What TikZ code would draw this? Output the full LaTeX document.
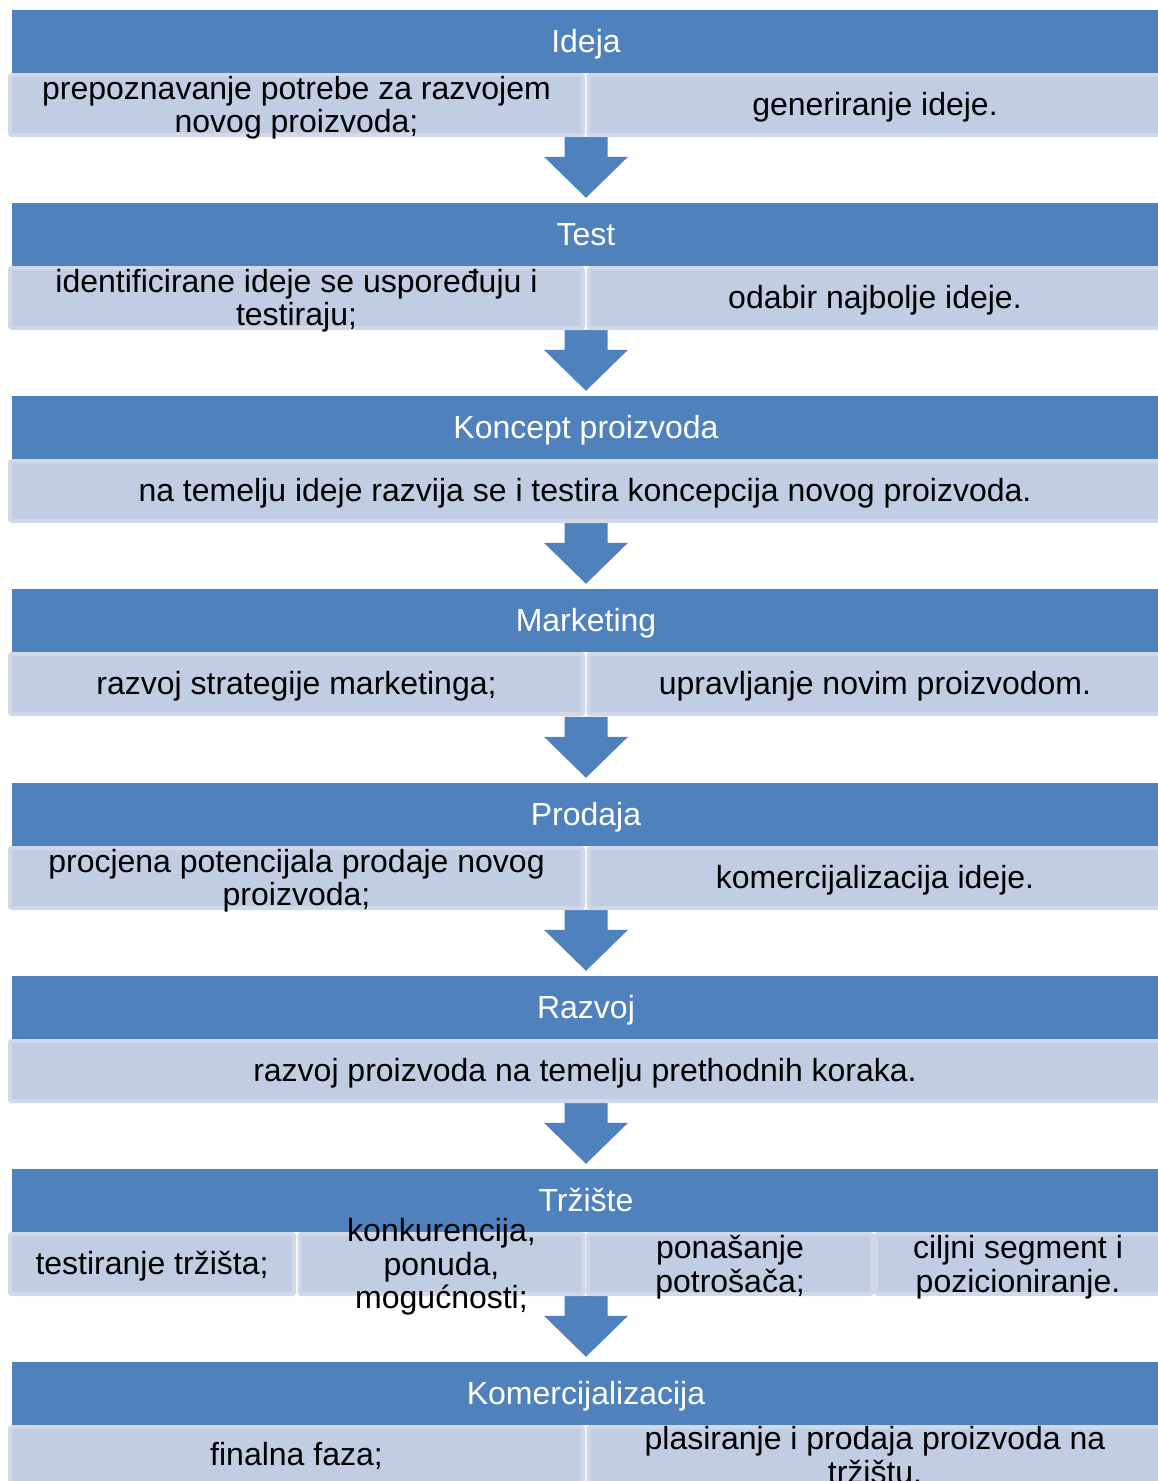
\documentclass[tikz,border=0pt]{standalone}
\usepackage{fontspec}
\setmainfont{Liberation Sans}
\usepackage{xcolor}
\usepackage{tikz}
\usetikzlibrary{calc}

\definecolor{hdblue}{RGB}{79,129,189}
\definecolor{subfill}{RGB}{193,205,226}
\definecolor{subframe}{RGB}{209,217,233}

\begin{document}
\begin{tikzpicture}
  [
    x=1pt, y=-1pt,
    head/.style={
      fill=hdblue,
      draw=none,
      minimum width=1148pt,
      minimum height=63pt,
      inner sep=0pt,
      text height=25pt,
      text depth=3pt,
      text=white,
      font=\fontsize{32}{34}\selectfont
    },
    sub/.style={
      fill=subfill,
      draw=subframe,
      line width=4pt,
      rounded corners=2pt,
      minimum height=60pt,
      inner sep=0pt
    },
    half/.style={sub, minimum width=573pt},
    full/.style={sub, minimum width=1150pt},
    quarter/.style={sub, minimum width=284pt},
    txt/.style={
      align=center,
      inner sep=0pt,
      font=\fontsize{32}{33.5}\selectfont
    },
    blk/.style={fill=hdblue}
  ]
  \useasboundingbox (0,0) rectangle (1158,1481);

  % headers
  \node (h1) at (586,41.5)   [head] {Ideja};
  \node (h2) at (586,234.5)  [head] {Test};
  \node (h3) at (586,427.5)  [head] {Koncept proizvoda};
  \node (h4) at (586,620.5)  [head] {Marketing};
  \node (h5) at (586,814.5)  [head] {Prodaja};
  \node (h6) at (586,1007.5) [head] {Razvoj};
  \node (h7) at (586,1200.5) [head] {Tržište};
  \node (h8) at (586,1393.5) [head] {Komercijalizacija};

  % block arrows (under the boxes)
  \fill [blk] ($(h2.north)+(-21.5,-66)$) -- ++(43,0) -- ++(0,20) -- ++(20.5,0) -- ($(h2.north)+(0,-5)$) -- ($(h2.north)+(-42,-46)$) -- ++(20.5,0) -- cycle;
  \fill [blk] ($(h3.north)+(-21.5,-66)$) -- ++(43,0) -- ++(0,20) -- ++(20.5,0) -- ($(h3.north)+(0,-5)$) -- ($(h3.north)+(-42,-46)$) -- ++(20.5,0) -- cycle;
  \fill [blk] ($(h4.north)+(-21.5,-66)$) -- ++(43,0) -- ++(0,20) -- ++(20.5,0) -- ($(h4.north)+(0,-5)$) -- ($(h4.north)+(-42,-46)$) -- ++(20.5,0) -- cycle;
  \fill [blk] ($(h5.north)+(-21.5,-66)$) -- ++(43,0) -- ++(0,20) -- ++(20.5,0) -- ($(h5.north)+(0,-5)$) -- ($(h5.north)+(-42,-46)$) -- ++(20.5,0) -- cycle;
  \fill [blk] ($(h6.north)+(-21.5,-66)$) -- ++(43,0) -- ++(0,20) -- ++(20.5,0) -- ($(h6.north)+(0,-5)$) -- ($(h6.north)+(-42,-46)$) -- ++(20.5,0) -- cycle;
  \fill [blk] ($(h7.north)+(-21.5,-66)$) -- ++(43,0) -- ++(0,20) -- ++(20.5,0) -- ($(h7.north)+(0,-5)$) -- ($(h7.north)+(-42,-46)$) -- ++(20.5,0) -- cycle;
  \fill [blk] ($(h8.north)+(-21.5,-66)$) -- ++(43,0) -- ++(0,20) -- ++(20.5,0) -- ($(h8.north)+(0,-5)$) -- ($(h8.north)+(-42,-46)$) -- ++(20.5,0) -- cycle;

  % boxes under each header
  \node (s1a) at (296.5,105)  [half] {};
  \node (s1b) at (875,105)    [half] {};
  \node (s2a) at (296.5,298)  [half] {};
  \node (s2b) at (875,298)    [half] {};
  \node (s3)  at (585,491)    [full] {};
  \node (s4a) at (296.5,684)  [half] {};
  \node (s4b) at (875,684)    [half] {};
  \node (s5a) at (296.5,878)  [half] {};
  \node (s5b) at (875,878)    [half] {};
  \node (s6)  at (585,1071)   [full] {};
  \node (s7a) at (152,1264)   [quarter] {};
  \node (s7b) at (441.5,1264) [quarter] {};
  \node (s7c) at (730,1264)   [quarter] {};
  \node (s7d) at (1018,1264)  [quarter] {};
  \node (s8a) at (296.5,1457) [half] {};
  \node (s8b) at (875,1457)   [half] {};

  % texts
  \node (t1a) at ($(s1a)+(0,2.5)$) [txt] {prepoznavanje potrebe za razvojem\\novog proizvoda;};
  \node (t1b) at ($(s1b)+(0,2)$)   [txt] {generiranje ideje.};
  \node (t2a) at ($(s2a)+(0,2.5)$) [txt] {identificirane ideje se uspoređuju i\\testiraju;};
  \node (t2b) at ($(s2b)+(0,2)$)   [txt] {odabir najbolje ideje.};
  \node (t3)  at ($(s3)+(0,2)$)    [txt] {na temelju ideje razvija se i testira koncepcija novog proizvoda.};
  \node (t4a) at ($(s4a)+(0,2)$)   [txt] {razvoj strategije marketinga;};
  \node (t4b) at ($(s4b)+(0,2)$)   [txt] {upravljanje novim proizvodom.};
  \node (t5a) at ($(s5a)+(0,2.5)$) [txt] {procjena potencijala prodaje novog\\proizvoda;};
  \node (t5b) at ($(s5b)+(0,2)$)   [txt] {komercijalizacija ideje.};
  \node (t6)  at ($(s6)+(0,2)$)    [txt] {razvoj proizvoda na temelju prethodnih koraka.};
  \node (t7a) at ($(s7a)+(0,2)$)   [txt] {testiranje tržišta;};
  \node (t7b) at ($(s7b)+(0,3)$)   [txt] {konkurencija,\\ponuda,\\mogućnosti;};
  \node (t7c) at ($(s7c)+(0,3)$)   [txt] {ponašanje\\potrošača;};
  \node (t7d) at ($(s7d)+(0,3)$)   [txt] {ciljni segment i\\pozicioniranje.};
  \node (t8a) at ($(s8a)+(0,-1)$)  [txt] {finalna faza;};
  \node (t8b) at ($(s8b)+(0,-2)$)  [txt] {plasiranje i prodaja proizvoda na\\tržištu.};
\end{tikzpicture}
\end{document}
